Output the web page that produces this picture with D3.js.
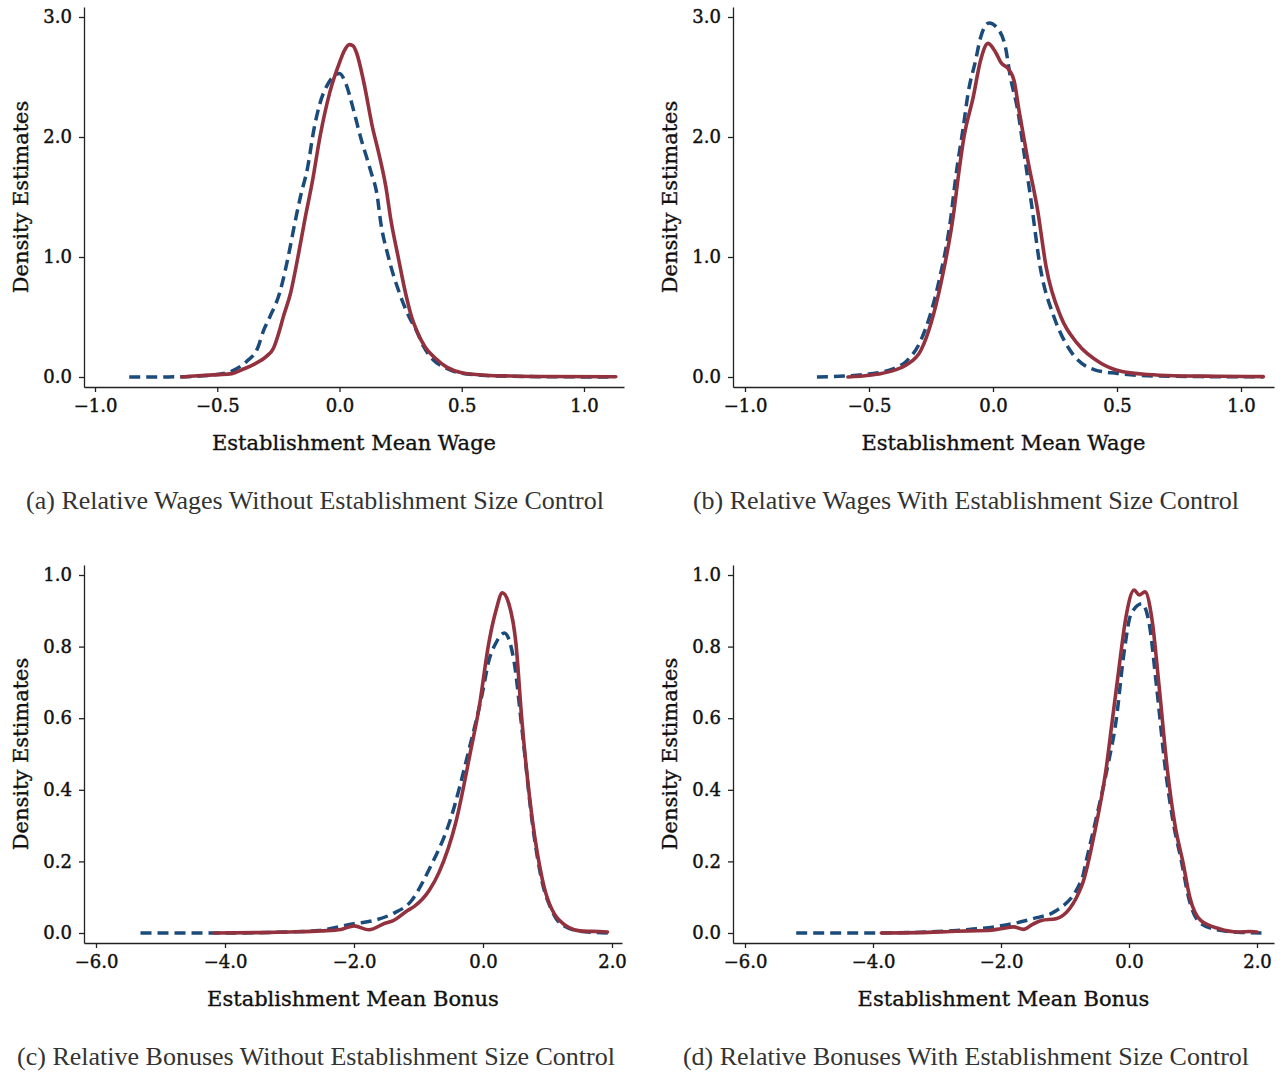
<!DOCTYPE html>
<html>
<head>
<meta charset="utf-8">
<script src="https://cdn.jsdelivr.net/npm/d3@7"></script>
<style>
    body { margin: 0; background: #fff; }
    .axis path, .axis line { stroke: #222; stroke-width: 1.3px; }
    .axis .tick text { font-family: "DejaVu Serif", serif; font-size: 18px; fill: #111; stroke: #111; stroke-width: 0.45px; }
    .axis-title { font-family: "DejaVu Serif", serif; font-size: 21px; fill: #111; stroke: #111; stroke-width: 0.35px; }
    .caption { font-family: "Liberation Serif", serif; font-size: 26px; fill: #333; }
    .line-blue { fill: none; stroke: #1b4b7a; stroke-width: 3.5px; stroke-dasharray: 11 6; }
    .line-red { fill: none; stroke: #93323e; stroke-width: 3.6px; stroke-linejoin: round; stroke-linecap: round; }
</style>
</head>
<body>
<div id="chart"></div>
<script>

// * Data: [value, density]

// (a) wages, no size control
var wageNoSizeBlue = [[-0.86,0],[-0.7,0.001],[-0.6,0.005],[-0.5,0.02],[-0.44,0.05],[-0.38,0.13],[-0.335,0.24],
    [-0.31,0.39],[-0.285,0.5],[-0.245,0.7],[-0.21,1.0],[-0.18,1.31],[-0.16,1.5],[-0.13,1.75],[-0.105,2.06],
    [-0.08,2.28],[-0.045,2.45],[-0.015,2.52],[0.0,2.53],[0.025,2.45],[0.058,2.22],[0.086,2.0],[0.127,1.72],
    [0.155,1.5],[0.167,1.31],[0.2,1.0],[0.245,0.7],[0.285,0.5],[0.314,0.39],[0.345,0.25],[0.38,0.15],
    [0.43,0.08],[0.48,0.04],[0.58,0.015],[0.7,0.006],[0.9,0.002],[1.1,0.0]];
var wageNoSizeRed = [[-0.645,0],[-0.58,0.01],[-0.5,0.02],[-0.44,0.028],[-0.4,0.06],[-0.35,0.105],[-0.3,0.17],
    [-0.27,0.24],[-0.245,0.39],[-0.23,0.5],[-0.2,0.7],[-0.17,1.0],[-0.14,1.33],[-0.11,1.64],[-0.08,2.0],
    [-0.04,2.37],[0.0,2.62],[0.02,2.72],[0.04,2.77],[0.055,2.76],[0.07,2.7],[0.1,2.45],[0.135,2.08],
    [0.16,1.87],[0.19,1.58],[0.21,1.31],[0.24,1.0],[0.27,0.7],[0.295,0.5],[0.315,0.39],[0.35,0.25],
    [0.39,0.16],[0.44,0.08],[0.5,0.036],[0.6,0.015],[0.7,0.008],[0.85,0.004],[1.13,0.002]];

// (b) wages, with size control
var wageSizeBlue = [[-0.71,0],[-0.6,0.008],[-0.5,0.025],[-0.4,0.07],[-0.35,0.13],[-0.29,0.31],[-0.22,0.78],
    [-0.17,1.33],[-0.15,1.67],[-0.12,2.08],[-0.1,2.37],[-0.07,2.64],[-0.05,2.83],[-0.016,2.95],[0.024,2.89],
    [0.05,2.75],[0.07,2.5],[0.1,2.22],[0.125,1.87],[0.153,1.475],[0.19,0.92],[0.246,0.5],[0.31,0.225],
    [0.41,0.06],[0.5,0.03],[0.6,0.012],[0.8,0.004],[1.09,0.001]];
var wageSizeRed = [[-0.585,0],[-0.5,0.015],[-0.45,0.03],[-0.4,0.055],[-0.35,0.1],[-0.29,0.225],[-0.21,0.78],
    [-0.157,1.39],[-0.14,1.67],[-0.117,2.0],[-0.08,2.33],[-0.05,2.64],[-0.02,2.78],[0.012,2.7],[0.032,2.62],
    [0.065,2.56],[0.085,2.47],[0.105,2.22],[0.14,1.81],[0.18,1.39],[0.214,0.92],[0.274,0.5],[0.34,0.28],
    [0.435,0.115],[0.52,0.045],[0.6,0.025],[0.7,0.013],[0.9,0.006],[1.09,0.003]];

// (c) bonuses, no size control
var bonusNoSizeBlue = [[-5.31,0],[-4,0],[-3,0.003],[-2.54,0.007],[-2.0,0.026],[-1.69,0.035],[-1.4,0.054],
    [-1.11,0.09],[-0.84,0.176],[-0.5,0.32],[-0.22,0.51],[-0.01,0.67],[0.09,0.76],[0.2,0.81],[0.33,0.838],
    [0.42,0.81],[0.48,0.76],[0.61,0.56],[0.77,0.3],[0.92,0.14],[1.05,0.07],[1.18,0.03],[1.5,0.005],[1.95,0.0]];
var bonusNoSizeRed = [[-4.17,0],[-3.5,0.001],[-3,0.003],[-2.5,0.006],[-2.2,0.01],[-2.0,0.02],[-1.77,0.009],
    [-1.51,0.028],[-1.4,0.034],[-1.17,0.063],[-1.06,0.075],[-0.83,0.12],[-0.68,0.17],[-0.42,0.31],
    [-0.19,0.51],[-0.06,0.63],[0.09,0.81],[0.2,0.9],[0.3,0.95],[0.4,0.92],[0.51,0.81],[0.6,0.6],
    [0.77,0.31],[0.92,0.15],[1.18,0.036],[1.5,0.006],[1.8,0.004],[1.93,0.003]];

// (d) bonuses, with size control
var bonusSizeBlue = [[-5.2,0],[-4,0],[-3,0.004],[-2.5,0.01],[-2,0.02],[-1.5,0.04],[-1.14,0.062],[-0.73,0.154],
    [-0.67,0.2],[-0.5,0.33],[-0.34,0.46],[-0.2,0.595],[-0.08,0.78],[0.03,0.89],[0.2,0.92],[0.31,0.87],
    [0.43,0.69],[0.57,0.455],[0.7,0.3],[0.82,0.2],[0.93,0.1],[1.1,0.03],[1.4,0.008],[1.7,0.002],[2.07,0]];
var bonusSizeRed = [[-3.87,0],[-3.3,0.001],[-2.8,0.004],[-2.5,0.006],[-2.2,0.007],[-2.0,0.012],[-1.8,0.017],
    [-1.65,0.01],[-1.5,0.025],[-1.37,0.035],[-1.14,0.04],[-0.73,0.136],[-0.55,0.27],[-0.36,0.455],
    [-0.26,0.595],[-0.16,0.735],[-0.05,0.88],[0.08,0.958],[0.16,0.944],[0.25,0.953],[0.36,0.875],
    [0.47,0.69],[0.6,0.455],[0.72,0.3],[0.84,0.2],[0.95,0.1],[1.12,0.035],[1.41,0.012],[1.7,0.003],
    [1.9,0.004],[2.0,0.003]];

// ticks and labels
var wageXTicks = [-1.0, -0.5, 0.0, 0.5, 1.0];
var wageYTicks = [0, 1, 2, 3];
var bonusXTicks = [-6, -4, -2, 0, 2];
var bonusYTicks = [0, 0.2, 0.4, 0.6, 0.8, 1.0];
var yTitle = "Density Estimates";
var xTitles = ["Establishment Mean Wage", "Establishment Mean Bonus"];
var captions = [
    "(a) Relative Wages Without Establishment Size Control",
    "(b) Relative Wages With Establishment Size Control",
    "(c) Relative Bonuses Without Establishment Size Control",
    "(d) Relative Bonuses With Establishment Size Control"
];


/*
 *  densityPanel - one framed density plot with its caption
 *  @param _svg     -- d3 selection of the svg
 *  @param _box     -- pixel layout of the panel
 *  @param _series  -- [blue, red] arrays
 */

densityPanel = function(_svg, _box, _series, _xTicks, _yTicks, _xTitle, _caption) {
    this.svg = _svg;
    this.box = _box;
    this.series = _series;
    this.xTicks = _xTicks;
    this.yTicks = _yTicks;
    this.xTitle = _xTitle;
    this.caption = _caption;

    this.initVis();
}

densityPanel.prototype.initVis = function() {
    var vis = this;
    var b = vis.box;

    // scales pinned on two tick positions, then stretched to the frame
    vis.x = d3.scaleLinear().domain(b.xDom).range(b.xPx);
    vis.x.domain([vis.x.invert(b.left), vis.x.invert(b.right)]).range([b.left, b.right]);

    vis.y = d3.scaleLinear().domain(b.yDom).range(b.yPx);
    vis.y.domain([vis.y.invert(b.bottom), vis.y.invert(b.top)]).range([b.bottom, b.top]);

    vis.svg.append("g")
        .attr("class", "axis")
        .attr("transform", "translate(0," + b.bottom + ")")
        .call(d3.axisBottom(vis.x).tickValues(vis.xTicks).tickFormat(d3.format(".1f"))
            .tickSize(5).tickSizeOuter(0).tickPadding(7));

    vis.svg.append("g")
        .attr("class", "axis")
        .attr("transform", "translate(" + b.left + ",0)")
        .call(d3.axisLeft(vis.y).tickValues(vis.yTicks).tickFormat(d3.format(".1f"))
            .tickSize(5).tickSizeOuter(0).tickPadding(7));

    // titles
    vis.svg.append("text")
        .attr("class", "axis-title")
        .attr("text-anchor", "middle")
        .attr("x", (b.left + b.right) / 2)
        .attr("y", b.bottom + 63)
        .text(vis.xTitle);

    vis.svg.append("text")
        .attr("class", "axis-title")
        .attr("text-anchor", "middle")
        .attr("transform", "translate(" + (b.left - 56) + "," + ((b.top + b.bottom) / 2) + ") rotate(-90)")
        .text(yTitle);

    vis.svg.append("text")
        .attr("class", "caption")
        .attr("text-anchor", "middle")
        .attr("x", b.capX)
        .attr("y", b.bottom + 122)
        .text(vis.caption);

    // curves
    vis.line = d3.line()
        .x(function(d) { return vis.x(d[0]); })
        .y(function(d) { return vis.y(d[1]); })
        .curve(d3.curveMonotoneX);

    vis.svg.append("path")
        .datum(vis.series[0])
        .attr("class", "line-blue")
        .attr("d", vis.line);

    vis.svg.append("path")
        .datum(vis.series[1])
        .attr("class", "line-red")
        .attr("d", vis.line);
}


var svg = d3.select("#chart").append("svg")
    .attr("width", 1280)
    .attr("height", 1073);

new densityPanel(svg,
    {left: 84, right: 624, top: 7, bottom: 387, xDom: [-1, 1], xPx: [95, 584], yDom: [0, 3], yPx: [377, 17], capX: 315},
    [wageNoSizeBlue, wageNoSizeRed], wageXTicks, wageYTicks, xTitles[0], captions[0]);

new densityPanel(svg,
    {left: 733, right: 1274, top: 7, bottom: 387, xDom: [-1, 1], xPx: [745, 1241], yDom: [0, 3], yPx: [377, 17], capX: 966},
    [wageSizeBlue, wageSizeRed], wageXTicks, wageYTicks, xTitles[0], captions[1]);

new densityPanel(svg,
    {left: 84, right: 622, top: 565, bottom: 943, xDom: [-6, 2], xPx: [96, 612], yDom: [0, 1], yPx: [933, 575], capX: 316},
    [bonusNoSizeBlue, bonusNoSizeRed], bonusXTicks, bonusYTicks, xTitles[1], captions[2]);

new densityPanel(svg,
    {left: 733, right: 1274, top: 565, bottom: 943, xDom: [-6, 2], xPx: [745, 1257], yDom: [0, 1], yPx: [933, 575], capX: 966},
    [bonusSizeBlue, bonusSizeRed], bonusXTicks, bonusYTicks, xTitles[1], captions[3]);

</script>
</body>
</html>
